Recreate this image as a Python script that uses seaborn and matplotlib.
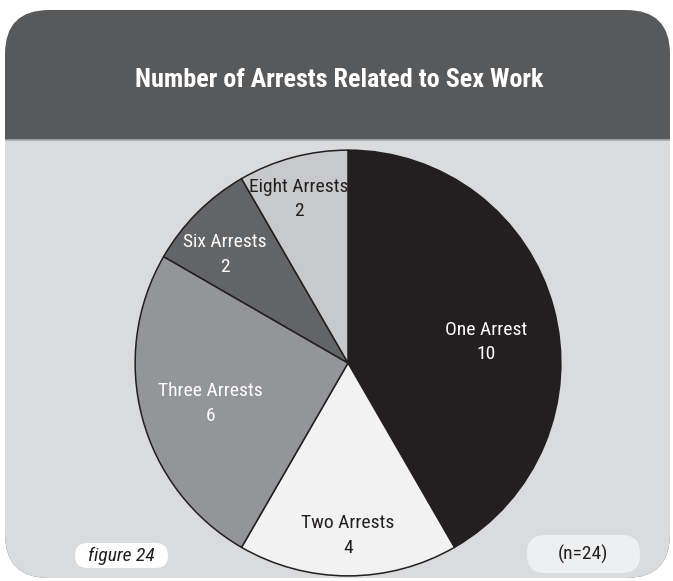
import matplotlib
matplotlib.use("Agg")
import matplotlib.pyplot as plt
from matplotlib.patches import FancyBboxPatch, Rectangle
import seaborn as sns

# chart data
categories = ["One Arrest", "Two Arrests", "Three Arrests", "Six Arrests", "Eight Arrests"]
counts = [10, 4, 6, 2, 2]
slice_colors = ["#231f20", "#f2f2f2", "#939598", "#636466", "#c8c9cb"]
label_colors = ["white", "#231f20", "white", "white", "#231f20"]
title = "Number of Arrests Related to Sex Work"
figure_tag = "figure 24"
n_note = "(n=24)"

sns.set_theme(style="white")
plt.rcParams["font.family"] = ["Roboto Condensed", "Fira Sans Condensed", "DejaVu Sans"]

W, H = 673, 581
fig = plt.figure(figsize=(W / 100, H / 100), dpi=100)
fig.patch.set_facecolor("white")

# background card, drawn in pixel coordinates (y down)
bg = fig.add_axes([0, 0, 1, 1])
bg.set_xlim(0, W)
bg.set_ylim(H, 0)
bg.axis("off")

card = FancyBboxPatch((5, 10), 665, 568, boxstyle="round,pad=0,rounding_size=44",
                      facecolor="#58595b", edgecolor="none")
bg.add_patch(card)
body = Rectangle((0, 140), W, H - 140, facecolor="#dadbdd", edgecolor="none")
bg.add_patch(body)
body.set_clip_path(card)
sep = bg.plot([5, 670], [140, 140], color="#a7a8aa", lw=1.2)[0]
sep.set_clip_path(card)

bg.text(339, 80, title, color="white", fontsize=18.7, fontweight="bold",
        ha="center", va="center")

# footer pills
bg.add_patch(FancyBboxPatch((75, 543), 93, 25, boxstyle="round,pad=0,rounding_size=12.5",
                            facecolor="white", edgecolor="none"))
bg.text(121, 556, figure_tag, color="#231f20", fontsize=14, style="italic",
        ha="center", va="center")
bg.add_patch(FancyBboxPatch((527, 535), 113, 38, boxstyle="round,pad=0,rounding_size=18",
                            facecolor="#eeeff0", edgecolor="none"))
bg.text(583, 554, n_note, color="#231f20", fontsize=14, ha="center", va="center")

# pie
cx, cy, r = 348, 363, 215
ax = fig.add_axes([(cx - r) / W, (H - cy - r) / H, 2 * r / W, 2 * r / H])
ax.pie(counts, colors=slice_colors, startangle=90, counterclock=False, radius=1,
       wedgeprops=dict(edgecolor="#231f20", linewidth=1.1))
ax.set_xlim(-1.01, 1.01)
ax.set_ylim(-1.01, 1.01)
ax.axis("off")

# label positions in pie units (radius 1)
label_pos = [(0.65, 0.10), (0.0, -0.81), (-0.645, -0.19), (-0.58, 0.51), (-0.23, 0.77)]
for name, val, (lx, ly), col in zip(categories, counts, label_pos, label_colors):
    ax.text(lx, ly, f"{name}\n{val}", color=col, fontsize=14, ha="center",
            va="center", linespacing=1.45)

fig.savefig("out.png", dpi=100, facecolor=fig.get_facecolor())
